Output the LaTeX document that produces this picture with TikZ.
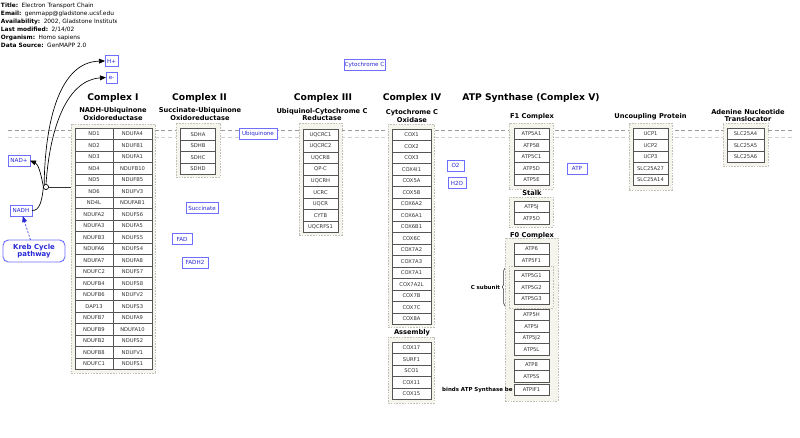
\documentclass[tikz,border=0pt]{standalone}
\usepackage{fontspec}
\setmainfont{DejaVu Sans}
\usetikzlibrary{arrows.meta,decorations.pathreplacing}
\definecolor{cellline}{RGB}{85,85,85}
\definecolor{ivory}{RGB}{245,245,238}
\definecolor{boxline}{RGB}{192,192,182}
\definecolor{lblue}{RGB}{110,110,255}
\definecolor{tblue}{RGB}{40,40,215}
\definecolor{dashA}{RGB}{155,155,155}
\definecolor{dashB}{RGB}{208,208,208}
\newcommand\myfs[2]{\fontsize{#1pt}{#2pt}\selectfont}
\newcommand\genecol[5]{\foreach \g [count=\i] in {#5} {\node[gene, minimum width=#4*0.75pt] (#1\i) at (#2,{#3+11.5*(\i-0.5)}) {\g};}}
\begin{document}
\begin{tikzpicture}[x=0.75pt,y=-0.75pt,
  every node/.style={inner sep=0pt, outer sep=0pt},
  gene/.style={draw=cellline, fill=white, line width=0.55pt, minimum height=8.625pt, font=\myfs{3.9}{4.5}, text=black!80},
  outer/.style={draw=boxline, fill=ivory, dash pattern=on 1.2pt off 0.9pt, line width=0.45pt},
  sz/.style 2 args={minimum width=#1*0.75pt, minimum height=#2*0.75pt},
  lbl/.style={draw=lblue, fill=white, text=tblue, font=\myfs{4.2}{5}, line width=0.6pt, minimum height=8.4pt},
  ttl/.style={font=\bfseries\myfs{6.9}{8}},
  sub/.style={font=\bfseries\myfs{5}{5.6}, align=center},
  hdr/.style={anchor=west, font=\myfs{4.4}{5}},
  arr/.style={-{Triangle[length=4.5pt,width=3.6pt]}, line width=0.5pt}
]
\useasboundingbox (0,0) rectangle (800,437);

% header
\node[hdr] (hTitle) at (1,5.5) {\textbf{Title:}\, Electron Transport Chain};
\node[hdr] (hMail) at (1,14) {\textbf{Email:}\, genmapp@gladstone.ucsf.edu};
\begin{scope}
\clip (0,17) rectangle (116,27);
\node[hdr] (hAvail) at (1,22) {\textbf{Availability:}\, 2002, Gladstone Institutes};
\end{scope}
\node[hdr] (hMod) at (1,30) {\textbf{Last modified:}\, 2/14/02};
\node[hdr] (hOrg) at (1,37.5) {\textbf{Organism:}\, Homo sapiens};
\node[hdr] (hSrc) at (1,45) {\textbf{Data Source:}\, GenMAPP 2.0};

% membrane lines
\draw[dashA, line width=0.5pt, dash pattern=on 3pt off 2pt] (8,130) -- (792,130);
\draw[dashB, line width=0.7pt, dash pattern=on 3pt off 2pt] (8,137) -- (792,137);

% titles
\node[ttl] (tI) at (113,98) {Complex I};
\node[sub] (sI) at (113,113.8) {NADH-Ubiquinone\\Oxidoreductase};
\node[ttl] (tII) at (199.5,98) {Complex II};
\node[sub] (sII) at (200,114) {Succinate-Ubiquinone\\Oxidoreductase};
\node[ttl] (tIII) at (323,98) {Complex III};
\node[sub] (sIII) at (322,114.5) {Ubiquinol-Cytochrome C\\Reductase};
\node[ttl] (tIV) at (412,98) {Complex IV};
\node[sub] (sIV) at (412,116) {Cytochrome C\\Oxidase};
\node[ttl] (tV) at (531,98) {ATP Synthase (Complex V)};
\node[sub] (sF1) at (532,117) {F1 Complex};
\node[sub] (sUCP) at (650.5,117) {Uncoupling Protein};
\node[sub] (sANT) at (748,115.5) {Adenine Nucleotide\\Translocator};

% outer boxes
\node[outer, sz={84}{249}] (cIbox) at (113,248.5) {};
\node[outer, sz={44}{54}] (cIIbox) at (198,150) {};
\node[outer, sz={43}{112}] (cIIIbox) at (320.5,179) {};
\node[outer, sz={46}{203}] (cIVbox) at (411,225.5) {};
\node[outer, sz={46}{66}] (asmbox) at (411,370) {};
\node[outer, sz={44}{66}] (f1box) at (531,156) {};
\node[outer, sz={44}{30}] (stalkbox) at (531,212) {};
\node[outer, sz={53}{163}] (f0box) at (531.5,319.5) {};
\node[outer, sz={44}{42}] (csubbox) at (531,287) {};
\node[outer, sz={43}{67}] (ucpbox) at (650.5,156.5) {};
\node[outer, sz={45}{43}] (antbox) at (745.5,144.5) {};

% complex labels inside area
\node[sub] (sAsm) at (412,333) {Assembly};
\node[sub] (sStalk) at (532,193) {Stalk};
\node[sub] (sF0) at (532,235.5) {F0 Complex};

% genes
\genecol{cIa}{94}{128}{38}{ND1,ND2,ND3,ND4,ND5,ND6,ND4L,NDUFA2,NDUFA3,NDUFB3,NDUFA6,NDUFA7,NDUFC2,NDUFB4,NDUFB6,DAP13,NDUFB7,NDUFB9,NDUFB2,NDUFB8,NDUFC1}
\genecol{cIb}{132.5}{128}{39}{NDUFA4,NDUFB1,NDUFA1,NDUFB10,NDUFB5,NDUFV3,NDUFAB1,NDUFS6,NDUFA5,NDUFS5,NDUFS4,NDUFA8,NDUFS7,NDUFS8,NDUFV2,NDUFS3,NDUFA9,NDUFA10,NDUFS2,NDUFV1,NDUFS1}
\genecol{cII}{198}{128.7}{34.5}{SDHA,SDHB,SDHC,SDHD}
\genecol{cIII}{320.5}{129}{35}{UQCRC1,UQCRC2,UQCRB,QP-C,UQCRH,UCRC,UQCR,CYTB,UQCRFS1}
\genecol{cIV}{411.5}{129}{39}{COX1,COX2,COX3,COX4I1,COX5A,COX5B,COX6A2,COX6A1,COX6B1,COX6C,COX7A2,COX7A3,COX7A1,COX7A2L,COX7B,COX7C,COX8A}
\genecol{asm}{411.5}{342}{39}{COX17,SURF1,SCO1,COX11,COX15}
\genecol{fone}{531.5}{128}{35}{ATP5A1,ATP5B,ATP5C1,ATP5D,ATP5E}
\genecol{stalk}{531.5}{201}{35}{ATP5J,ATP5O}
\genecol{fzA}{531.5}{243}{35}{ATP6,ATP5F1}
\genecol{fzC}{531.5}{270}{35}{ATP5G1,ATP5G2,ATP5G3}
\genecol{fzD}{531.5}{309}{35}{ATP5H,ATP5I,ATP5J2,ATP5L}
\genecol{fzE}{531.5}{359}{35}{ATP8,ATP5S}
\genecol{fzF}{531.5}{384}{35}{ATPIF1}
\genecol{ucp}{650.5}{128}{35}{UCP1,UCP2,UCP3,SLC25A27,SLC25A14}
\genecol{ant}{745.5}{128}{37}{SLC25A4,SLC25A5,SLC25A6}

% side labels
\node[font=\bfseries\myfs{4.1}{5}, anchor=east] (csubl) at (500,287) {C subunit};
\draw[line width=0.4pt, black!80, decorate, decoration={brace, amplitude=2pt}] (505,306) -- (505,268);
\node[font=\bfseries\myfs{4.1}{5}, anchor=east] (binds) at (512.5,390) {binds ATP Synthase be};

% metabolite labels
\node[lbl, minimum width=13*0.75pt] (Hp) at (111.5,61) {H+};
\node[lbl, minimum width=11*0.75pt] (em) at (111.5,77.5) {e-};
\node[lbl, minimum width=22*0.75pt] (NADp) at (19,160.5) {NAD+};
\node[lbl, minimum width=22*0.75pt] (NADH) at (21,210.5) {NADH};
\node[lbl, minimum width=38*0.75pt] (ubq) at (258,133.5) {Ubiquinone};
\node[lbl, minimum width=41*0.75pt] (cytc) at (364.5,64.5) {Cytochrome C};
\node[lbl, minimum width=32*0.75pt] (succ) at (202,208) {Succinate};
\node[lbl, minimum width=20*0.75pt] (fad) at (182,239) {FAD};
\node[lbl, minimum width=26*0.75pt] (fadh) at (195,262.5) {FADH2};
\node[lbl, minimum width=17*0.75pt] (otwo) at (455.5,165.5) {O2};
\node[lbl, minimum width=18*0.75pt] (water) at (457,183) {H2O};
\node[lbl, minimum width=20*0.75pt] (atp) at (577,168.5) {ATP};
\node[draw=lblue, fill=white, text=tblue, line width=0.7pt, rounded corners=4pt,
      minimum width=62*0.75pt, minimum height=22*0.75pt, align=center,
      font=\bfseries\myfs{5.2}{5.6}] (kreb) at (34,251) {Kreb Cycle\\pathway};

% connectors
\node[circle, draw=black, fill=white, minimum size=3.9pt, line width=0.5pt] (jn) at (46,187) {};
\draw[line width=0.5pt, black!80] (jn.east) -- (jn -| cIbox.west);
\draw[arr] (NADH.east) .. controls (40,211) and (42,200) .. (jn.west) .. controls (41,173) and (38,164) .. (NADp.east);
\draw[arr] (jn.north west) .. controls (45,120) and (60,62) .. (Hp.west);
\draw[arr] (jn.north) .. controls (50,125) and (68,80) .. (em.west);
\draw[-{Triangle[length=4.5pt,width=3.6pt]}, tblue, line width=0.5pt, dash pattern=on 1.5pt off 1.2pt] (kreb) -- (NADH);
\end{tikzpicture}
\end{document}
